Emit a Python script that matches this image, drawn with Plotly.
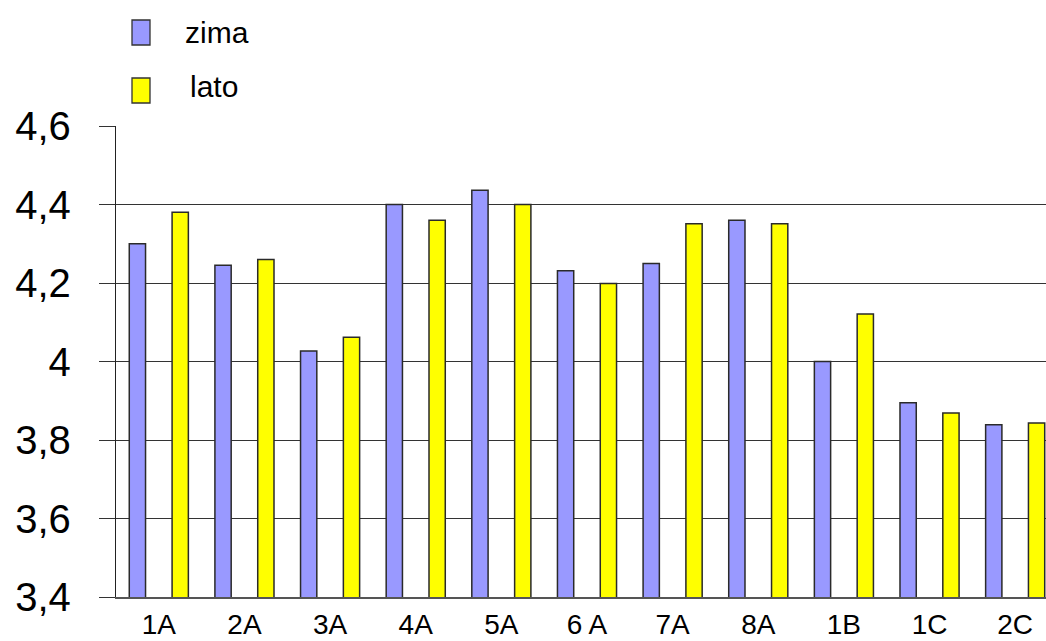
import plotly.graph_objects as go

categories = ["1A", "2A", "3A", "4A", "5A", "6 A", "7A", "8A", "1B", "1C", "2C"]
zima = [4.30, 4.245, 4.027, 4.40, 4.436, 4.231, 4.25, 4.36, 4.00, 3.895, 3.839]
lato = [4.38, 4.26, 4.062, 4.36, 4.40, 4.199, 4.351, 4.351, 4.121, 3.869, 3.843]
series_names = ["zima", "lato"]
colors = ["#9999FF", "#FFFF00"]
y_ticks = [3.4, 3.6, 3.8, 4.0, 4.2, 4.4, 4.6]

FONT = "Liberation Sans, Arial, sans-serif"

fig = go.Figure()
for name, vals, col in zip(series_names, [zima, lato], colors):
    fig.add_trace(go.Bar(
        x=categories, y=vals, name=name,
        marker=dict(color=col, line=dict(color="#2a2a2a", width=1.5)),
        showlegend=False,
    ))

fig.update_layout(
    width=1046, height=641,
    margin=dict(l=116, r=0, t=126, b=44, autoexpand=False),
    paper_bgcolor="white", plot_bgcolor="white",
    barmode="group", bargap=0.0, bargroupgap=0.62,
    separators=", ",
    font=dict(family=FONT, color="black"),
    xaxis=dict(
        type="category", range=[-0.5, 10.36], automargin=False,
        showgrid=False, showline=True, linecolor="#555555", linewidth=2,
        ticks="", tickfont=dict(size=28, family=FONT), ticklabelstandoff=1,
        zeroline=False,
    ),
    yaxis=dict(
        range=[3.4, 4.6], tickvals=y_ticks, automargin=False,
        showgrid=True, gridcolor="#333333", gridwidth=1.3,
        showline=True, linecolor="#222222", linewidth=1.3,
        ticks="outside", ticklen=16, tickcolor="#333333", tickwidth=1.3,
        tickfont=dict(size=40, family=FONT), ticklabelstandoff=20,
        zeroline=False,
    ),
)

# legend drawn manually
legend_rows = [(81, 106, 67, 94), (23, 48, 72, 40)]
for (y0, y1, tx, ty), name, col in zip(legend_rows, series_names, colors):
    fig.add_shape(type="rect", xref="paper", yref="paper",
                  xsizemode="pixel", ysizemode="pixel", xanchor=0, yanchor=1,
                  x0=16, x1=34, y0=y0, y1=y1,
                  fillcolor=col, line=dict(color="#333333", width=1.3))
    fig.add_annotation(text=name, xref="paper", yref="paper", x=0, y=1,
                       xshift=tx, yshift=ty, xanchor="left", yanchor="middle",
                       showarrow=False, font=dict(size=30, family=FONT, color="black"))

fig.write_html(
    "out.html",
    config={"displayModeBar": False},
    post_script="document.body.style.margin='0';document.body.style.overflow='hidden';",
)
